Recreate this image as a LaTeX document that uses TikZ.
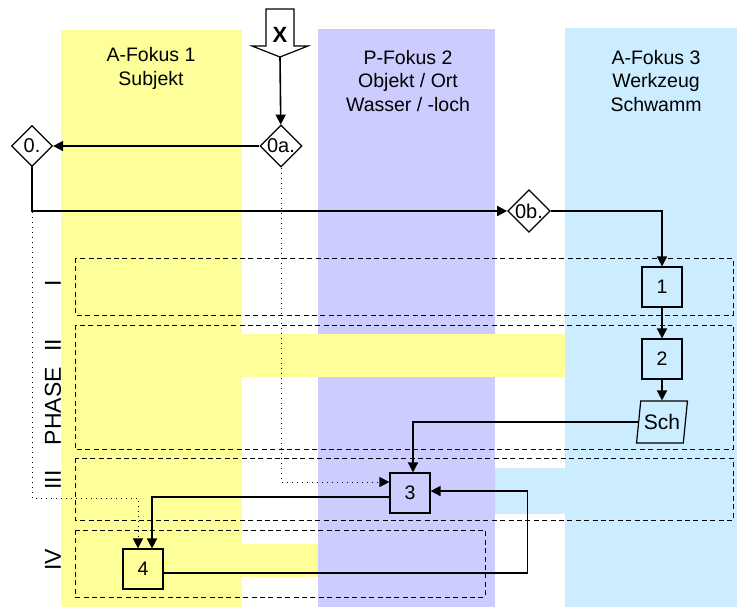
\documentclass[tikz,border=0pt]{standalone}
\usepackage{fontspec}
\setmainfont{Liberation Sans}
\usepackage{xcolor}
\usetikzlibrary{shapes.geometric,arrows.meta}

\definecolor{fokusgelb}{HTML}{FFFF99}
\definecolor{fokuslila}{HTML}{CCCCFF}
\definecolor{fokusblau}{HTML}{CCECFF}

\tikzset{
  box/.style={draw, line width=0.6pt, minimum size=20pt, inner sep=0pt, font=\fontsize{9.75}{11.7}\selectfont},
  gate/.style={diamond, draw, fill=white, line width=0.6pt, inner sep=0pt, aspect=1,
    minimum width=20.5pt, minimum height=20.5pt, font=\fontsize{10}{12}\selectfont},
  tool/.style={trapezium, trapezium left angle=77, trapezium right angle=103, trapezium stretches=true,
    draw, line width=0.6pt, minimum width=25.5pt, minimum height=21pt, inner sep=0pt, font=\fontsize{10.5}{12}\selectfont},
  head/.style={align=center, font=\fontsize{9.75}{11.9}\selectfont},
  phaselab/.style={rotate=90, font=\fontsize{11.5}{13}\selectfont},
  flow/.style={line width=0.8pt, -{Triangle[length=5pt,width=5pt]}},
  dotflow/.style={dotted, line width=0.5pt, -{Triangle[length=5pt,width=5pt]}},
  phasebox/.style={dashed, dash pattern=on 2.5pt off 1.7pt, line width=0.5pt}
}

\begin{document}
\begin{tikzpicture}[x=0.5pt, y=-0.5pt]
  \useasboundingbox (0,0) rectangle (737,607);
  % Fokus columns
  \fill[fokusgelb] (61,30) rectangle (242,607);
  \fill[fokuslila] (318,29) rectangle (495,607);
  \fill[fokusblau] (565,28) rectangle (737,607);
  \fill[fokusgelb] (242,334) rectangle (565,377);
  \fill[fokusblau] (495,468) rectangle (565,514);
  \fill[fokusgelb] (242,544) rectangle (318,577);
  \node[head] (h1) at (151,68.5) {A-Fokus 1\\Subjekt};
  \node[head] (h2) at (408,81) {P-Fokus 2\\Objekt / Ort\\Wasser / -loch};
  \node[head] (h3) at (656,81) {A-Fokus 3\\Werkzeug\\Schwamm};
  % Phases
  \draw[phasebox] (75,258) rectangle (733,315);
  \draw[phasebox] (75,325) rectangle (733,449);
  \draw[phasebox] (75,458) rectangle (733,520);
  \draw[phasebox] (75,530) rectangle (485,597);
  \node[phaselab] (pI) at (53,283) {I};
  \node[phaselab] (pII) at (53,345) {II};
  \node[phaselab] (pword) at (53,406) {PHASE};
  \node[phaselab] (pIII) at (53,480) {III};
  \node[phaselab] (pIV) at (53,560) {IV};
  % Start arrow
  \draw[line width=0.6pt, fill=white] (266,9) -- (294,9) -- (294,46) -- (308,46) -- (280,57)
    -- (252,46) -- (266,46) -- cycle;
  \node[font=\fontsize{11}{13}\selectfont\bfseries] (xlab) at (280,35) {X};
  \coordinate (xtip) at (280,57);
  % Steps
  \node[gate] (d0) at (32,146) {0.};
  \node[gate] (d0a) at (281,146) {0a.};
  \node[gate] (d0b) at (529,211) {0b.};
  \node[box] (b1) at (662,287) {1};
  \node[box] (b2) at (662,359) {2};
  \node[tool] (sch) at (662,422) {Sch};
  \node[box] (b3) at (410,493) {3};
  \node[box] (b4) at (143,569) {4};
  % Connectors
  \draw[flow] (xtip) -- (d0a);
  \draw[flow] (d0a.west) -- (d0.east);
  \draw[dotflow] (d0.south) -- ++(0,331) -| ([xshift=-2.5pt]b4.north);
  \draw[dotflow] (d0a.south) |- ([yshift=5.5pt]b3.west);
  \draw[flow] (d0.south) |- (d0b.west);
  \draw[flow] (d0b.east) -| (b1.north);
  \draw[flow] (b1) -- (b2);
  \draw[flow] (b2) -- (sch);
  \draw[flow] (sch.west) -| ([xshift=1.5pt]b3.north);
  \draw[flow] ([yshift=-2pt]b3.west) -| ([xshift=4.5pt]b4.north);
  \draw[flow] ([yshift=-2pt]b4.east) -- ++(364,0) |- ([yshift=1pt]b3.east);
\end{tikzpicture}
\end{document}
